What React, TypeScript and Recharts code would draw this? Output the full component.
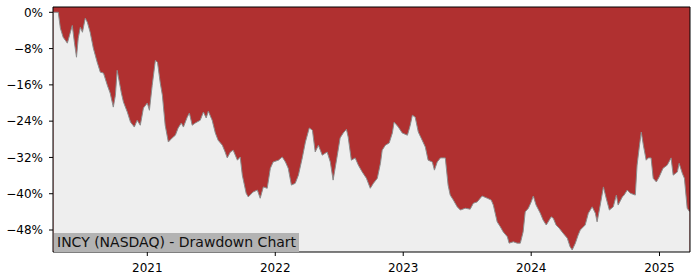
import { Area, AreaChart, CartesianGrid, ReferenceLine, XAxis, YAxis } from "recharts";

// drawdown of INCY
const dates = [
	"2020-04-08", "2020-04-22", "2020-04-28", "2020-05-06", "2020-05-18", "2020-05-24",
	"2020-06-01", "2020-06-07", "2020-06-13", "2020-06-18", "2020-06-24", "2020-06-30",
	"2020-07-08", "2020-07-14", "2020-07-22", "2020-07-31", "2020-08-11", "2020-08-20",
	"2020-08-29", "2020-09-09", "2020-09-17", "2020-09-26", "2020-10-02", "2020-10-07",
	"2020-10-19", "2020-10-25", "2020-11-05", "2020-11-14", "2020-11-25", "2020-12-03",
	"2020-12-12", "2020-12-21", "2021-01-01", "2021-01-07", "2021-01-15", "2021-01-24",
	"2021-01-30", "2021-02-07", "2021-02-13", "2021-02-21", "2021-03-02", "2021-03-13",
	"2021-03-22", "2021-03-30", "2021-04-08", "2021-04-14", "2021-04-25", "2021-05-01",
	"2021-05-09", "2021-05-18", "2021-06-01", "2021-06-10", "2021-06-18", "2021-06-24",
	"2021-07-05", "2021-07-14", "2021-07-22", "2021-08-03", "2021-08-11", "2021-08-17",
	"2021-08-26", "2021-09-03", "2021-09-15", "2021-09-23", "2021-09-29", "2021-10-10",
	"2021-10-16", "2021-10-30", "2021-11-11", "2021-11-19", "2021-11-28", "2021-12-09",
	"2021-12-18", "2021-12-26", "2022-01-10", "2022-01-21", "2022-01-30", "2022-02-07",
	"2022-02-16", "2022-02-27", "2022-03-08", "2022-03-19", "2022-03-28", "2022-04-08",
	"2022-04-17", "2022-04-25", "2022-05-04", "2022-05-15", "2022-05-29", "2022-06-07",
	"2022-06-15", "2022-06-27", "2022-07-05", "2022-07-14", "2022-07-23", "2022-07-28",
	"2022-08-06", "2022-08-17", "2022-08-26", "2022-09-06", "2022-09-18", "2022-09-29",
	"2022-10-08", "2022-10-19", "2022-10-28", "2022-11-02", "2022-11-11", "2022-11-22",
	"2022-12-01", "2022-12-06", "2022-12-18", "2022-12-29", "2023-01-13", "2023-01-21",
	"2023-01-27", "2023-02-04", "2023-02-13", "2023-02-24", "2023-03-05", "2023-03-13",
	"2023-03-25", "2023-03-31", "2023-04-08", "2023-04-17", "2023-05-01", "2023-05-09",
	"2023-05-15", "2023-05-24", "2023-06-04", "2023-06-13", "2023-06-27", "2023-07-11",
	"2023-07-20", "2023-07-31", "2023-08-14", "2023-08-29", "2023-09-09", "2023-09-15",
	"2023-09-26", "2023-10-05", "2023-10-13", "2023-10-25", "2023-10-30", "2023-11-11",
	"2023-11-22", "2023-12-01", "2023-12-09", "2023-12-15", "2023-12-24", "2024-01-01",
	"2024-01-07", "2024-01-15", "2024-01-27", "2024-02-04", "2024-02-13", "2024-02-27",
	"2024-03-04", "2024-03-12", "2024-03-21", "2024-04-01", "2024-04-13", "2024-04-21",
	"2024-04-27", "2024-05-06", "2024-05-14", "2024-05-20", "2024-06-03", "2024-06-12",
	"2024-06-23", "2024-07-02", "2024-07-07", "2024-07-16", "2024-07-25", "2024-08-02",
	"2024-08-11", "2024-08-22", "2024-08-31", "2024-09-05", "2024-09-17", "2024-09-22",
	"2024-10-01", "2024-10-10", "2024-10-24", "2024-10-29", "2024-11-04", "2024-11-10",
	"2024-11-16", "2024-11-24", "2024-11-30", "2024-12-08", "2024-12-14", "2024-12-23",
	"2024-12-31", "2025-01-11", "2025-01-23", "2025-02-03", "2025-02-09", "2025-02-21",
	"2025-02-26", "2025-03-07", "2025-03-13", "2025-03-21", "2025-03-28",
];

const drawdown = [
	0, 0, -3.5, -5.5, -6.8, -5.1,
	-2.9, -6.6, -9.9, -5.7, -3.3, -4.4,
	-1.3, -2.2, -4.4, -7.9, -11.0, -13.2,
	-13.4, -16.1, -17.8, -20.9, -18.3, -12.8,
	-17.8, -19.8, -22.0, -24.2, -25.3, -23.8,
	-24.9, -21.1, -20.0, -21.6, -16.1, -10.6,
	-11.0, -15.6, -18.3, -24.9, -28.6, -27.7,
	-27.1, -25.5, -24.4, -25.3, -23.1, -22.2,
	-24.9, -24.4, -23.8, -22.0, -23.3, -21.8,
	-23.8, -26.6, -28.2, -29.3, -30.8, -32.1,
	-30.8, -30.4, -32.6, -31.9, -35.9, -39.9,
	-40.7, -39.6, -39.2, -41.0, -38.5, -38.8,
	-34.4, -33.0, -32.6, -31.9, -33.0, -34.4,
	-38.1, -37.7, -35.9, -32.1, -28.6, -25.5,
	-26.0, -30.8, -29.3, -31.5, -30.8, -33.0,
	-37.0, -31.5, -27.7, -26.6, -25.8, -27.5,
	-32.6, -32.1, -33.7, -35.2, -36.6, -38.8,
	-37.7, -36.6, -33.3, -30.4, -29.3, -28.8,
	-26.6, -24.2, -25.3, -26.6, -27.1, -24.9,
	-22.7, -23.1, -26.4, -28.2, -29.7, -32.6,
	-33.0, -34.8, -33.0, -32.1, -32.1, -38.1,
	-40.3, -41.4, -42.9, -43.6, -43.2, -43.4,
	-42.1, -41.8, -40.5, -41.0, -41.4, -42.5,
	-46.2, -47.3, -48.4, -49.5, -50.9, -50.6,
	-50.9, -50.9, -48.4, -44.0, -43.2, -41.8,
	-40.5, -42.5, -44.3, -45.8, -46.9, -45.1,
	-45.4, -46.9, -47.6, -48.7, -49.8, -51.7,
	-52.4, -50.9, -49.1, -48.0, -46.9, -44.3,
	-42.9, -44.3, -46.2, -42.5, -38.5, -41.0,
	-43.6, -42.9, -40.3, -42.5, -40.7, -40.3,
	-39.2, -39.9, -40.3, -33.7, -29.9, -26.4,
	-29.3, -32.6, -32.1, -32.1, -36.6, -37.4,
	-36.3, -34.4, -33.7, -32.1, -35.9, -35.2,
	-33.3, -35.5, -36.6, -43.2, -44.0,
];

const yearTicks = ["2021-01-01", "2022-01-01", "2023-01-01", "2024-01-01", "2025-01-01"];
const percentTicks = [0, -8, -16, -24, -32, -40, -48];
const title = "INCY (NASDAQ) - Drawdown Chart";

const X_MIN = Date.parse("2020-04-07");
const X_MAX = Date.parse("2025-03-29");
const Y_MIN = -52.85;
const Y_MAX = 1.17;

const data = dates.map((d, i) => ({ t: Date.parse(d), dd: drawdown[i] }));

const tickStyle = { fill: "#000", fontSize: 12, fontFamily: "DejaVu Sans" };

const fmtPct = (v: number) => (v === 0 ? "0%" : `\u2212${Math.abs(v)}%`);
const fmtYear = (v: number) => String(new Date(v).getUTCFullYear());

export default function App() {
	return (
		<div style={{ position: "absolute", left: 0, top: 0, width: 700, height: 280, background: "#fff" }}>
			<AreaChart width={700} height={280} data={data} margin={{ top: 7, right: 10, bottom: 0, left: 0 }}>
				<CartesianGrid fill="#b03030" horizontal={false} vertical={false} stroke="none" />
				<XAxis
					dataKey="t"
					type="number"
					domain={[X_MIN, X_MAX]}
					allowDataOverflow
					ticks={yearTicks.map((d) => Date.parse(d))}
					tickFormatter={fmtYear}
					height={28}
					tickSize={4}
					tickMargin={7}
					stroke="#000"
					tick={tickStyle}
				/>
				<YAxis
					type="number"
					domain={[Y_MIN, Y_MAX]}
					allowDataOverflow
					ticks={percentTicks}
					tickFormatter={fmtPct}
					width={53}
					tickSize={4}
					tickMargin={6}
					stroke="#000"
					tick={tickStyle}
				/>
				<Area
					type="linear"
					dataKey="dd"
					baseValue={Y_MIN}
					fill="#eeeeee"
					fillOpacity={1}
					stroke="#8c8c8c"
					strokeWidth={1}
					isAnimationActive={false}
					dot={false}
					activeDot={false}
				/>
				<ReferenceLine y={Y_MAX} stroke="#000" />
				<ReferenceLine x={X_MAX} stroke="#000" />
			</AreaChart>
			<div
				style={{
					position: "absolute",
					left: 54,
					top: 233,
					height: 19,
					lineHeight: "19px",
					padding: "0 3px",
					background: "#b3b3b3",
					color: "#111",
					fontFamily: "DejaVu Sans",
					fontSize: 14,
					whiteSpace: "nowrap",
				}}
			>
				{title}
			</div>
		</div>
	);
}
